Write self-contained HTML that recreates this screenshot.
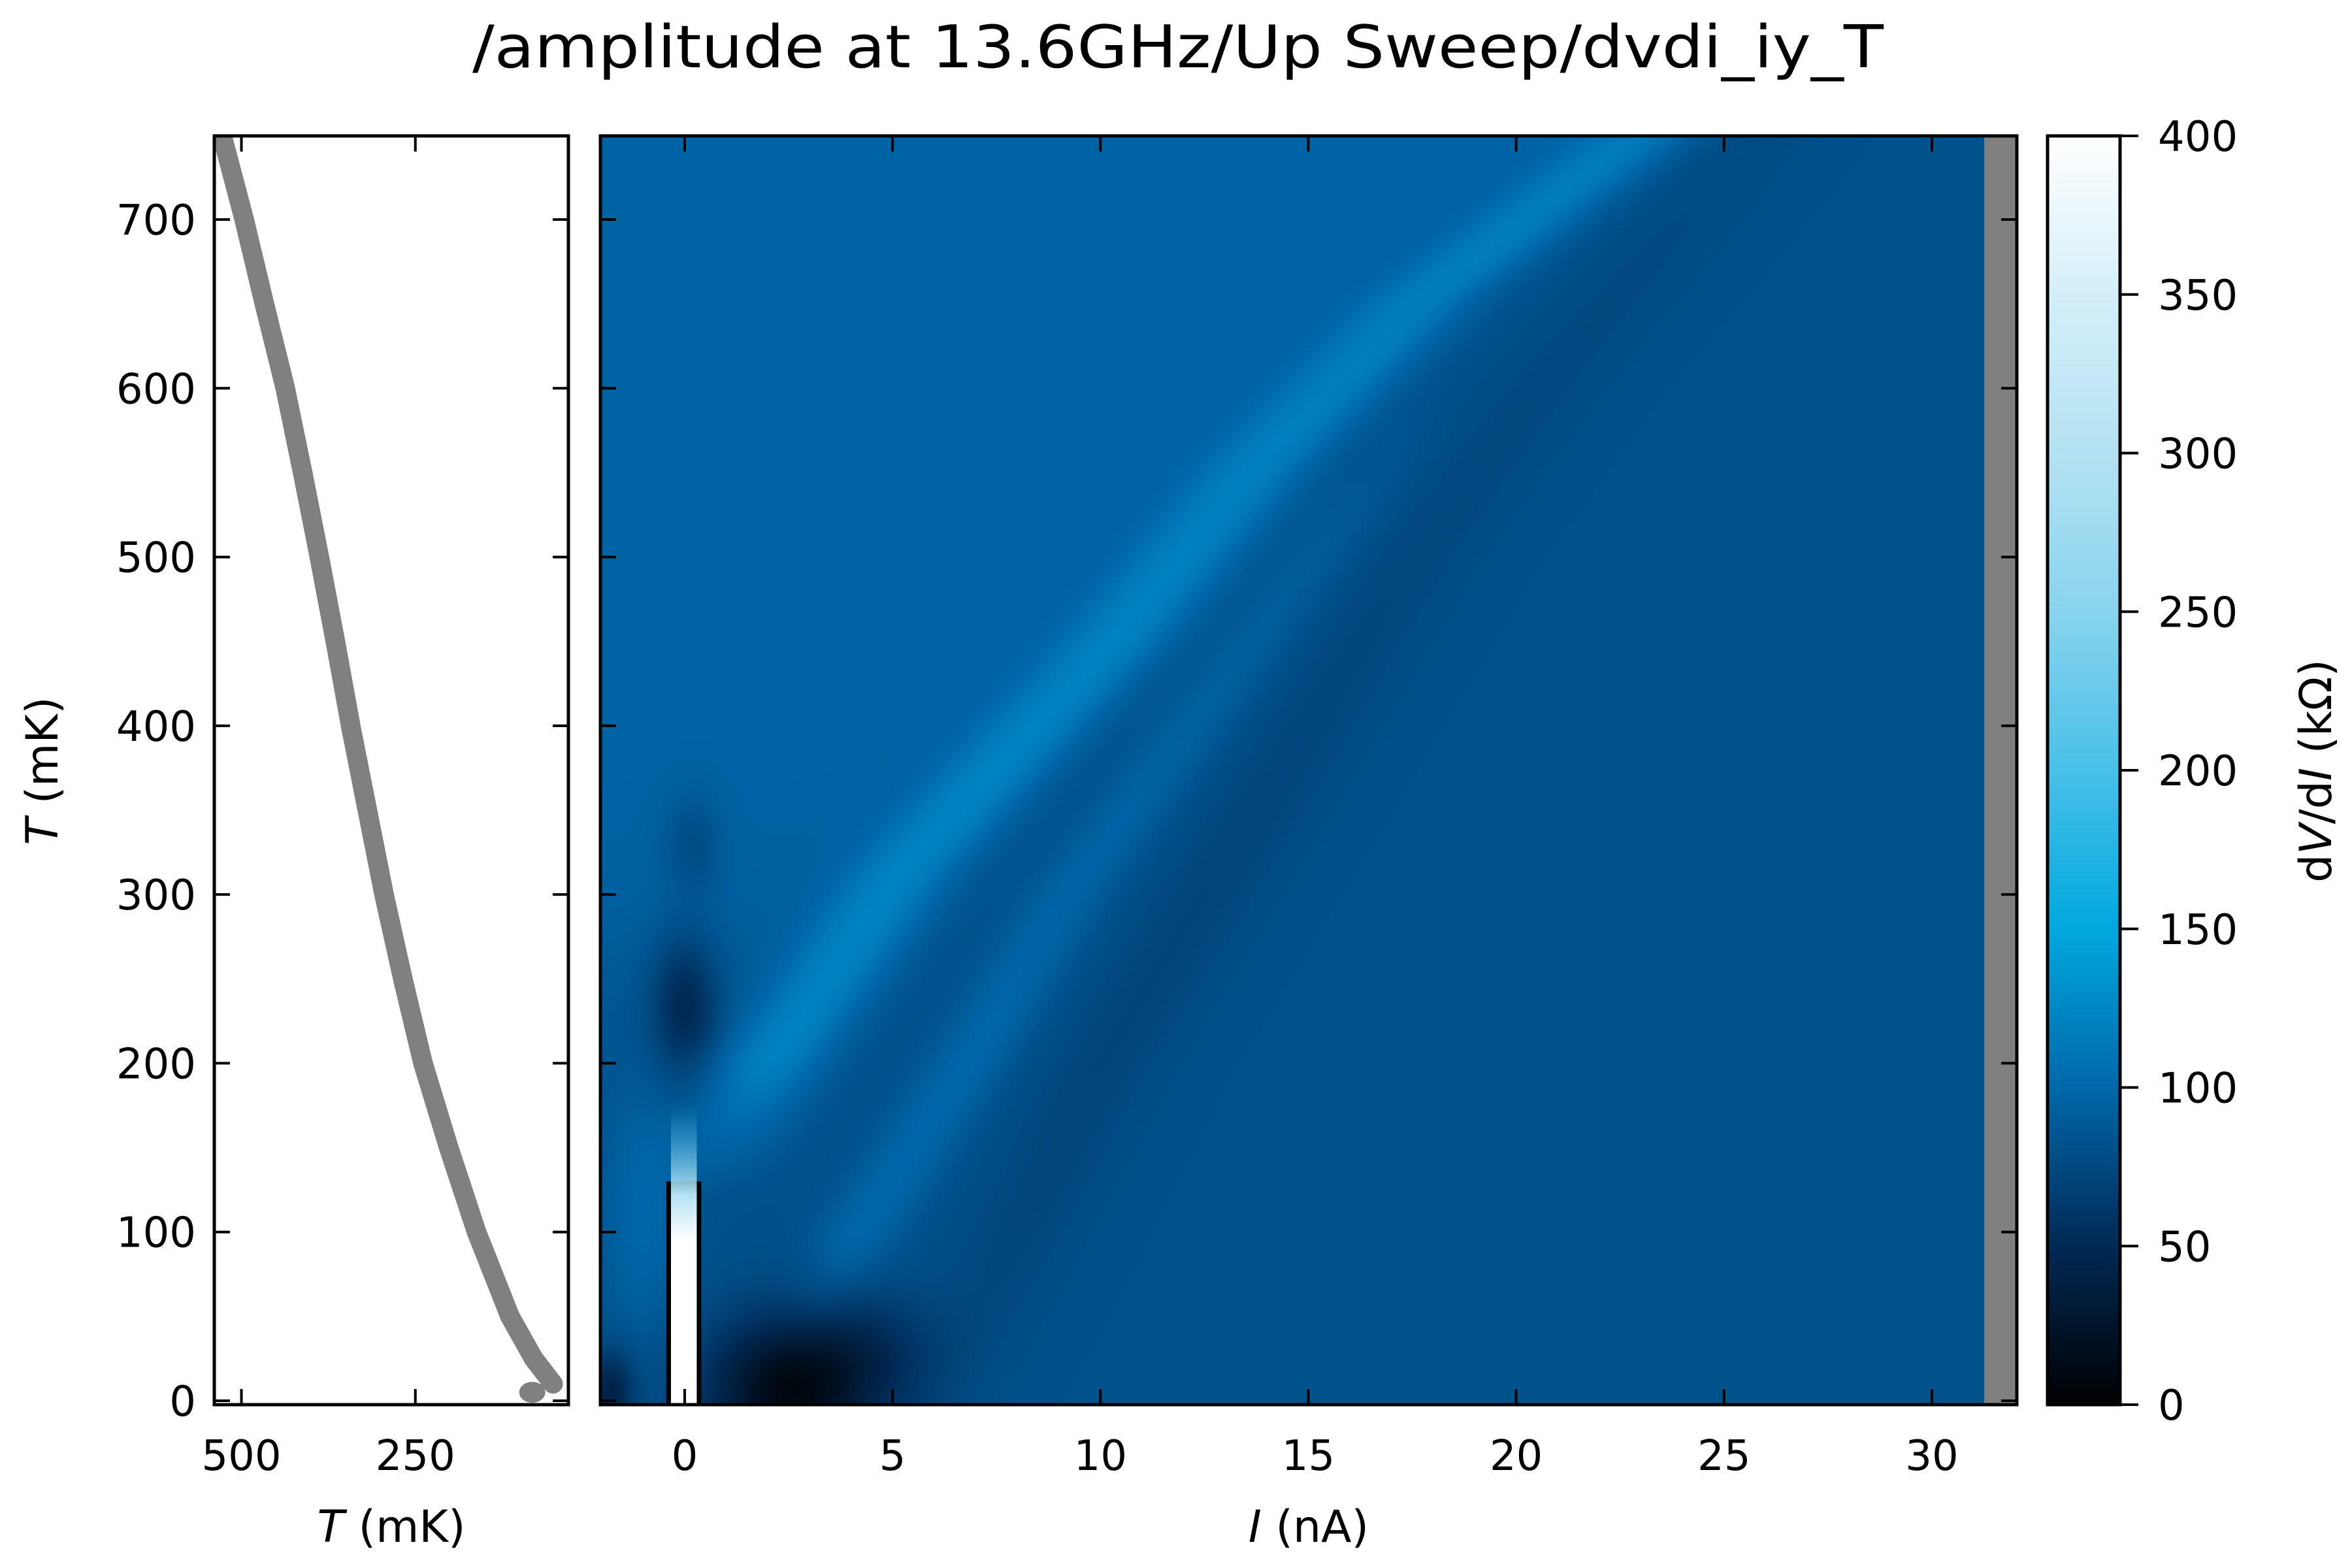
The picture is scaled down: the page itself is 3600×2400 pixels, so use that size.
<!DOCTYPE html>
<html><head><meta charset="utf-8">
<style>
html,body{margin:0;padding:0;background:#fff;}
#wrap{position:relative;width:3600px;height:2400px;overflow:hidden;}
svg{position:absolute;left:0;top:0;}
#heat{position:absolute;left:919px;top:208px;width:2168px;height:1942px;image-rendering:auto;}
text{font-family:"DejaVu Sans","Liberation Sans",sans-serif;fill:#000;}
</style></head>
<body>
<div id="wrap">
<canvas id="heat" width="542" height="486"></canvas>
<svg id="svg" width="3600" height="2400"></svg>
</div>
<script>
// ---- data ----
const tempT = [750, 700, 650, 600, 550, 500, 450, 400, 350, 300, 250, 200, 150, 100, 50, 25, 10];
const tempX = [528, 496, 467, 437, 412, 388, 365, 343, 319, 295, 268, 239, 202, 162, 114, 80, 52];
const blobT = [5];
const blobX = [82];
const ridgeA_T = [120, 202, 314, 450, 556, 653, 735, 760];
const ridgeA_I = [0.3, 2.1, 5.3, 10.4, 13.9, 17.8, 22.2, 23.5];
const ridgeA_amp = [0, 38, 34, 32, 30, 28, 26, 24];
const ridgeB_T = [30, 100, 200, 300, 400, 500, 600];
const ridgeB_I = [2.8, 4.2, 6.8, 9.2, 12.2, 15.2, 18.5];
const ridgeB_amp = [0, 18, 18, 15, 12, 8, 0];
const fringeEdge_T = [0, 100, 200, 300, 400, 500, 600, 700, 760];
const fringeEdge_I = [6, 8, 10, 12.5, 15, 17.5, 20.5, 24, 26];
const fringeEdge_amp = [-6, -9, -10, -10, -9, -8, -7, -6, -5];
const baseValue = [82];
const upperLeftBoost = [14];
const darkSpots = [[2.5, 5, 72, 2.0, 45], [4.5, 30, 20, 1.5, 35], [-1.8, 5, 40, 0.6, 25], [0, 235, 38, 0.8, 40], [0.2, 330, 16, 0.7, 30], [-1.0, 110, -18, 1.0, 70]]; // I, T, depth, sI, sT
const spikeT = [0, 130, 175];
const spikeI = [-0.33, 0.29];
const nanStartI = [31.26];
const xTicks = [0, 5, 10, 15, 20, 25, 30];
const yTicks = [0, 100, 200, 300, 400, 500, 600, 700];
const leftXTicks = [500, 250];
const cbTicks = [0, 50, 100, 150, 200, 250, 300, 350, 400];
const cmapV = [0, 50, 100, 150, 200, 250, 300, 350, 400];
const cmapC = ["#000000", "#002a55", "#0068aa", "#00a8de", "#48c0e8", "#88d4ee", "#b4e2f2", "#d4eff8", "#ffffff"];

// ---- axes ----
const M = {x0: 919, x1: 3087, y0: 2150, y1: 208};
const X = i => 1048 + i * (2957 - 1048) / 30;
const Y = t => 2144 - t * (2144 - 336) / 700;
const Iinv = x => (x - 1048) * 30 / (2957 - 1048);
const Tinv = y => (2144 - y) * 700 / (2144 - 336);
const L = {x0: 328, x1: 870, tmin: 539, tmax: 30};
const XL = t => L.x0 + (L.tmin - t) / (L.tmin - L.tmax) * (L.x1 - L.x0);
const CB = {x0: 3134, x1: 3245};
const YC = v => M.y0 - v / 400 * (M.y0 - M.y1);

function hex(c){return [parseInt(c.substr(1,2),16),parseInt(c.substr(3,2),16),parseInt(c.substr(5,2),16)];}
function cmap(v){
  v = Math.max(0, Math.min(400, v));
  for (let k = 0; k < cmapV.length - 1; k++) {
    if (v <= cmapV[k+1]) {
      const f = (v - cmapV[k]) / (cmapV[k+1] - cmapV[k]);
      const a = hex(cmapC[k]), b = hex(cmapC[k+1]);
      return [a[0]+(b[0]-a[0])*f, a[1]+(b[1]-a[1])*f, a[2]+(b[2]-a[2])*f];
    }
  }
  return [255,255,255];
}
function interp(xs, ys, x){
  if (x <= xs[0]) return ys[0];
  for (let k = 0; k < xs.length - 1; k++) if (x <= xs[k+1]) return ys[k] + (ys[k+1]-ys[k])*(x-xs[k])/(xs[k+1]-xs[k]);
  return ys[ys.length-1];
}

// ---- heatmap ----
(function(){
  const cv = document.getElementById('heat'), ctx = cv.getContext('2d');
  const W = cv.width, H = cv.height, img = ctx.createImageData(W, H);
  for (let py = 0; py < H; py++) {
    const t = Tinv(M.y1 + (py + 0.5) / H * (M.y0 - M.y1));
    const ca = interp(ridgeA_T, ridgeA_I, t), aa = t < ridgeA_T[0] ? 0 : interp(ridgeA_T, ridgeA_amp, t);
    const cb = interp(ridgeB_T, ridgeB_I, t), ab = (t < ridgeB_T[0] || t > ridgeB_T[ridgeB_T.length-1]) ? 0 : interp(ridgeB_T, ridgeB_amp, t);
    const cf = interp(fringeEdge_T, fringeEdge_I, t), af = interp(fringeEdge_T, fringeEdge_amp, t);
    const tf = 1 / (1 + Math.exp(-(t - 260) / 30));
    for (let px = 0; px < W; px++) {
      const i = Iinv(M.x0 + (px + 0.5) / W * (M.x1 - M.x0));
      let v = baseValue[0];
      v += aa * Math.exp(-Math.pow((i - ca) / 1.3, 2));
      v += upperLeftBoost[0] * tf / (1 + Math.exp((i - ca) / 0.8));
      v += ab * Math.exp(-Math.pow((i - cb) / 1.0, 2));
      v += af * Math.exp(-Math.pow((i - cf) / 1.6, 2));
      for (const d of darkSpots) v -= d[2] * Math.exp(-Math.pow((i-d[0])/d[3],2) - Math.pow((t-d[1])/d[4],2));
      const c = cmap(v), o = (py * W + px) * 4;
      img.data[o]=c[0]; img.data[o+1]=c[1]; img.data[o+2]=c[2]; img.data[o+3]=255;
    }
  }
  ctx.putImageData(img, 0, 0);
})();

// ---- svg ----
const svg = document.getElementById('svg'), NS = 'http://www.w3.org/2000/svg';
function el(tag, attrs, parent){const e=document.createElementNS(NS,tag);for(const k in attrs)e.setAttribute(k,attrs[k]);(parent||svg).appendChild(e);return e;}
function txt(s, attrs){const e=el('text',attrs);e.textContent=s;return e;}

// title
const title = txt('/amplitude at 13.6GHz/Up Sweep/dvdi_iy_T', {x:1803, y:103, 'font-size':90, 'text-anchor':'middle', textLength:2160, lengthAdjust:'spacingAndGlyphs'});



// spike
const spk = el('rect', {x:X(spikeI[0])-7, y:Y(spikeT[1]), width:X(spikeI[1])-X(spikeI[0])+14, height:M.y0-Y(spikeT[1]), fill:'#000'});


const defs = el('defs', {});
const lg = el('linearGradient', {id:'sg', x1:0, y1:0, x2:0, y2:1}, defs);
el('stop', {offset:0, 'stop-color':'#48c0e8', 'stop-opacity':0}, lg);
el('stop', {offset:0.3, 'stop-color':'#b4e2f2'}, lg);
el('stop', {offset:0.45, 'stop-color':'#fff'}, lg);
el('stop', {offset:1, 'stop-color':'#fff'}, lg);
const spw = el('rect', {x:X(spikeI[0]), y:Y(spikeT[2]), width:X(spikeI[1])-X(spikeI[0]), height:M.y0-Y(spikeT[2]), fill:'url(#sg)'});



// nan strip
const nan = el('rect', {x:X(nanStartI[0]), y:M.y1, width:M.x1-X(nanStartI[0]), height:M.y0-M.y1, fill:'#808080'});



// left panel curve
const pts = tempT.map((t,k)=>XL(tempX[k])+','+Y(t)).join(' ');
const clip = el('clipPath', {id:'lc'}, defs);
el('rect', {x:L.x0, y:M.y1, width:L.x1-L.x0, height:M.y0-M.y1}, clip);
const curve = el('polyline', {points:pts, fill:'none', stroke:'#808080', 'stroke-width':30, 'stroke-linecap':'round', 'stroke-linejoin':'round', 'clip-path':'url(#lc)'});


blobT.forEach((t,k)=>{
  const b = el('ellipse', {cx:XL(blobX[k]), cy:Y(t), rx:20, ry:16, fill:'#808080', 'clip-path':'url(#lc)'});
  
  
});

// colorbar
const cg = el('linearGradient', {id:'cbg', x1:0, y1:1, x2:0, y2:0}, defs);
cmapV.forEach((v,k)=>el('stop', {offset:v/400, 'stop-color':cmapC[k]}, cg));
const cbr = el('rect', {x:CB.x0, y:M.y1, width:CB.x1-CB.x0, height:M.y0-M.y1, fill:'url(#cbg)', stroke:'#000', 'stroke-width':5});


cbTicks.forEach(v=>{
  el('line', {x1:CB.x1, x2:CB.x1+28, y1:YC(v), y2:YC(v), stroke:'#000', 'stroke-width':4});
  const t = txt(String(v), {x:CB.x1+58, y:YC(v)+23, 'font-size':64});
  
  
});

// frames
const fl = el('rect', {x:L.x0, y:M.y1, width:L.x1-L.x0, height:M.y0-M.y1, fill:'none', stroke:'#000', 'stroke-width':5});


const fm = el('rect', {x:M.x0, y:M.y1, width:M.x1-M.x0, height:M.y0-M.y1, fill:'none', stroke:'#000', 'stroke-width':5});



// ticks
const TL = 24;
yTicks.forEach(v=>{
  const y = Y(v);
  el('line', {x1:L.x0, x2:L.x0+TL, y1:y, y2:y, stroke:'#000', 'stroke-width':4});
  el('line', {x1:L.x1, x2:L.x1-TL, y1:y, y2:y, stroke:'#000', 'stroke-width':4});
  el('line', {x1:M.x0, x2:M.x0+TL, y1:y, y2:y, stroke:'#000', 'stroke-width':4});
  el('line', {x1:M.x1, x2:M.x1-TL, y1:y, y2:y, stroke:'#000', 'stroke-width':4});
  const t = txt(String(v), {x:L.x0-28, y:y+23, 'font-size':64, 'text-anchor':'end'});
  
  
});
xTicks.forEach(v=>{
  const x = X(v);
  el('line', {x1:x, x2:x, y1:M.y0, y2:M.y0-TL, stroke:'#000', 'stroke-width':4});
  el('line', {x1:x, x2:x, y1:M.y1, y2:M.y1+TL, stroke:'#000', 'stroke-width':4});
  const t = txt(String(v), {x:x, y:M.y0+100, 'font-size':64, 'text-anchor':'middle'});
  
  
});
leftXTicks.forEach(v=>{
  const x = XL(v);
  el('line', {x1:x, x2:x, y1:M.y0, y2:M.y0-TL, stroke:'#000', 'stroke-width':4});
  el('line', {x1:x, x2:x, y1:M.y1, y2:M.y1+TL, stroke:'#000', 'stroke-width':4});
  const t = txt(String(v), {x:x, y:M.y0+100, 'font-size':64, 'text-anchor':'middle'});
  
  
});

// axis labels
function label(html, attrs, name){
  const t = el('text', attrs); t.innerHTML = html;
  
  
}
label('<tspan font-style="italic">I</tspan> (nA)', {x:(M.x0+M.x1)/2, y:2360, 'font-size':68, 'text-anchor':'middle'}, 'x-axis-title');
label('<tspan font-style="italic">T</tspan> (mK)', {x:(L.x0+L.x1)/2, y:2360, 'font-size':68, 'text-anchor':'middle'}, 'left-x-axis-title');
label('<tspan font-style="italic">T</tspan> (mK)', {x:0, y:0, 'font-size':68, 'text-anchor':'middle', transform:'translate(88,1180) rotate(-90)'}, 'y-axis-title');
label('d<tspan font-style="italic">V</tspan>/d<tspan font-style="italic">I</tspan> (kΩ)', {x:0, y:0, 'font-size':68, 'text-anchor':'middle', transform:'translate(3568,1180) rotate(-90)'}, 'colorbar-title');
</script>
</body></html>
